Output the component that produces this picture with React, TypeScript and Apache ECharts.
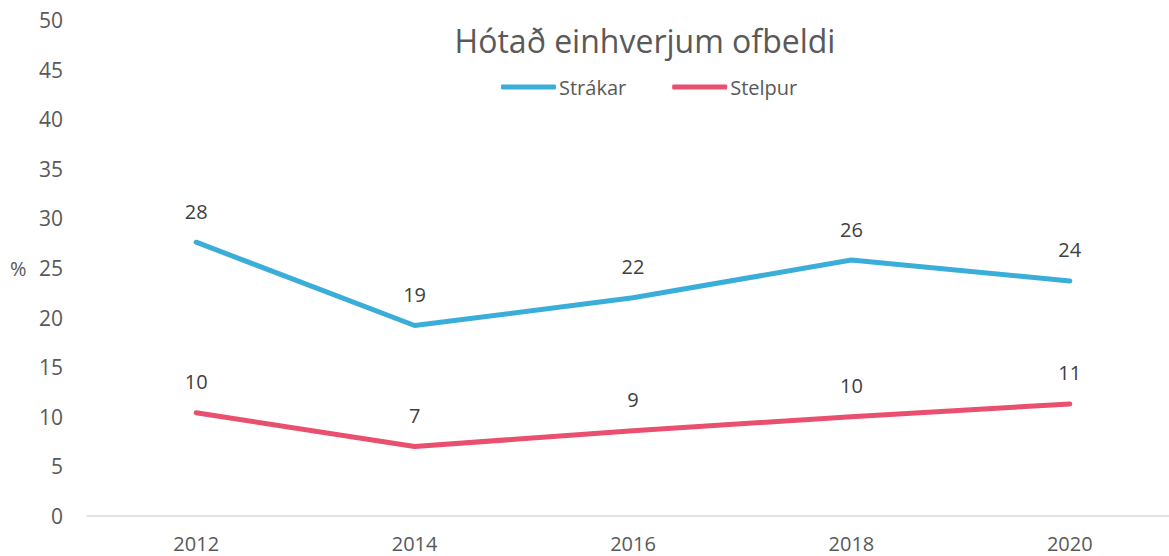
import React, { useEffect, useRef } from "react";
import * as echarts from "echarts";

const categories = ["2012", "2014", "2016", "2018", "2020"];
const strakar = [27.6, 19.2, 22.0, 25.8, 23.7];
const stelpur = [10.4, 7.0, 8.6, 10.0, 11.3];
const seriesNames = ["Strákar", "Stelpur"];
const colors = ["#3aaed8", "#e94f6e"];
const FONT = "'Open Sans', 'Noto Sans', sans-serif";

export default function App() {
  const ref = useRef<HTMLDivElement>(null);
  useEffect(() => {
    if (!ref.current) return;
    const chart = echarts.init(ref.current, null, { renderer: "svg" });
    const mkSeries = (name: string, data: number[], color: string) => ({
      name,
      type: "line",
      data,
      symbol: "circle",
      symbolSize: 0,
      showSymbol: true,
      lineStyle: { color, width: 5, cap: "round", join: "round" },
      itemStyle: { color },
      label: {
        show: true,
        position: "top",
        distance: 21,
        formatter: (p: any) => String(Math.round(p.value)),
        color: "#404040",
        fontSize: 20,
        fontFamily: FONT,
      },
    });
    chart.setOption({
      animation: false,
      title: {
        text: "Hótað einhverjum ofbeldi",
        left: 640,
        textAlign: "center",
        top: 19,
        textStyle: { color: "#595959", fontSize: 32, fontWeight: "normal", fontFamily: FONT },
      },
      legend: {
        data: seriesNames,
        top: 72,
        left: 496,
        itemWidth: 55,
        itemHeight: 5,
        itemGap: 46,
        icon: "roundRect",
        textStyle: { color: "#595959", fontSize: 20, fontFamily: FONT, padding: [0, 0, 0, -2] },
      },
      graphic: [
        {
          type: "text",
          left: 10,
          top: 258,
          style: { text: "%", fill: "#595959", fontSize: 20, fontFamily: FONT },
        },
      ],
      grid: { left: 87, right: 0, top: 20, bottom: 40, containLabel: false },
      xAxis: {
        type: "category",
        data: categories,
        boundaryGap: true,
        axisLine: { lineStyle: { color: "#d9d9d9", width: 1.5 } },
        axisTick: { show: false },
        axisLabel: { color: "#595959", fontSize: 20, fontFamily: FONT, margin: 17 },
      },
      yAxis: {
        type: "value",
        min: 0,
        max: 50,
        interval: 5,
        splitLine: { show: false },
        axisLine: { show: false },
        axisTick: { show: false },
        axisLabel: { color: "#595959", fontSize: 21, fontFamily: FONT, margin: 24 },
      },
      series: [
        mkSeries(seriesNames[0], strakar, colors[0]),
        mkSeries(seriesNames[1], stelpur, colors[1]),
      ],
    });
    return () => chart.dispose();
  }, []);
  return (
    <div style={{ position: "fixed", left: 0, top: 0, width: 1169, height: 556, overflow: "hidden", background: "#fff" }}>
      <div ref={ref} style={{ width: 1179, height: 556 }} />
    </div>
  );
}
